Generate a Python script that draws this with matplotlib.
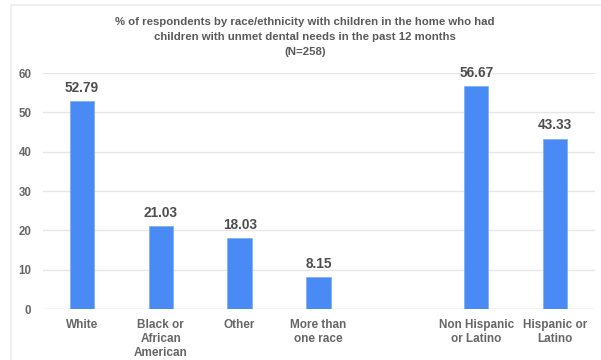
import matplotlib
matplotlib.use("Agg")
import matplotlib.pyplot as plt
from matplotlib.patches import Rectangle

categories = ["White", "Black or\nAfrican\nAmerican", "Other", "More than\none race", "",
              "Non Hispanic\nor Latino", "Hispanic or\nLatino"]
values = [52.79, 21.03, 18.03, 8.15, None, 56.67, 43.33]
value_labels = ["52.79", "21.03", "18.03", "8.15", "", "56.67", "43.33"]
yticks = [0, 10, 20, 30, 40, 50, 60]
title = ("% of respondents by race/ethnicity with children in the home who had\n"
         "children with unmet dental needs in the past 12 months\n(N=258)")

plt.rcParams['font.family'] = ['Liberation Sans', 'DejaVu Sans']

W, H = 601, 360
fig = plt.figure(figsize=(W / 100, H / 100), dpi=100)
fig.patch.set_facecolor("white")

# faint outer frame
fig.add_artist(Rectangle((11 / W, -0.1), 1.2, 1 - 5 / H + 0.1, transform=fig.transFigure,
                         fill=False, edgecolor="#ececec", linewidth=1.2))

ax = fig.add_axes([42.5 / W, 1 - 309 / H, (594.5 - 42.5) / W, (309 - 73) / H])
ax.set_facecolor("none")

xs = list(range(len(categories)))
bar_color = "#4a8af4"
for x, v, lab in zip(xs, values, value_labels):
    if v is None:
        continue
    ax.bar(x, v, width=0.31, color=bar_color, edgecolor="#7fb0f8", linewidth=0.6, zorder=3)
    ax.text(x, v + 1.6, lab, ha="center", va="bottom", fontsize=9.8,
            fontweight="bold", color="#4d4d4d")

ax.set_xlim(-0.5, len(categories) - 0.5)
ax.set_ylim(0, 60)
ax.set_yticks(yticks)
ax.set_yticklabels([str(t) for t in yticks], fontsize=8.3, fontweight="bold", color="#666666")
ax.set_xticks(xs)
ax.set_xticklabels(categories, fontsize=8.5, fontweight="bold", color="#666666",
                   linespacing=1.25)
ax.tick_params(axis="both", length=0)
ax.tick_params(axis="y", pad=8)
ax.tick_params(axis="x", pad=7)
ax.grid(axis="y", color="#e6e6e6", linewidth=1, zorder=0)
for s in ax.spines.values():
    s.set_visible(False)
ax.axhline(0, color="#d9d9d9", linewidth=1, zorder=2)

fig.text(305 / W, 1 - 17 / H, title, ha="center", va="top", fontsize=8.2,
         fontweight="bold", color="#595959", linespacing=1.62)

fig.savefig("out.png", dpi=100)
